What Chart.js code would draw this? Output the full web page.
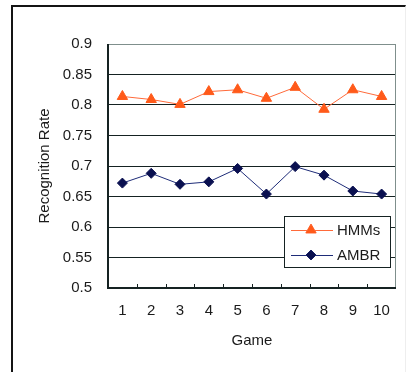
<!DOCTYPE html>
<html>
<head>
<meta charset="utf-8">
<script src="https://cdn.jsdelivr.net/npm/chart.js@4"></script>
<style>
    html, body { margin: 0; padding: 0; background: #fff; }
    #wrap { position: relative; width: 406px; height: 372px; }
    #frame {
        position: absolute; left: 11px; top: 5px; width: 392px; height: 365px;
        border-left: 2px solid #141414; border-top: 2px solid #141414;
        border-right: 1px solid #eeeeee; border-bottom: 1px solid #f2dede;
    }
    canvas { position: absolute; left: 0; top: 0; }
</style>
</head>
<body>
<div id="wrap">
    <div id="frame"></div>
    <canvas id="chart" width="406" height="372"></canvas>
</div>
<script>
// Donnees
const games = ['1', '2', '3', '4', '5', '6', '7', '8', '9', '10'];
const hmms = [0.814, 0.809, 0.801, 0.822, 0.825, 0.811, 0.829, 0.793, 0.825, 0.814];
const ambr = [0.672, 0.688, 0.670, 0.674, 0.696, 0.654, 0.699, 0.685, 0.659, 0.654];
const yTicks = [0.5, 0.55, 0.6, 0.65, 0.7, 0.75, 0.8, 0.85, 0.9];

const FONT = 'Liberation Sans, Arial, sans-serif';
const TEXT = '#1b1b1b';

// Legende et details du cadre
const extras = {
    id: 'extras',
    afterDraw(chart) {
        const ctx = chart.ctx;
        const area = chart.chartArea;
        const x = chart.scales.x;

        ctx.save();
        // bord droit gris
        ctx.strokeStyle = '#7f8f8c';
        ctx.lineWidth = 1;
        ctx.beginPath();
        ctx.moveTo(area.right - 0.5, area.top);
        ctx.lineTo(area.right - 0.5, area.bottom);
        ctx.stroke();

        // petites graduations vers l'interieur
        ctx.strokeStyle = '#152222';
        for (let i = 1; i < games.length; i++) {
            const px = Math.round(x.getPixelForValue(i - 0.5)) + 0.5;
            ctx.beginPath();
            ctx.moveTo(px, area.bottom);
            ctx.lineTo(px, area.bottom - 4);
            ctx.stroke();
        }

        // axes noirs
        ctx.lineWidth = 2;
        ctx.beginPath();
        ctx.moveTo(area.left, area.top);
        ctx.lineTo(area.left, area.bottom);
        ctx.lineTo(area.right, area.bottom);
        ctx.stroke();

        // legende
        const bx = area.right - 112, by = area.bottom - 72, bw = 106, bh = 51;
        ctx.fillStyle = '#fff';
        ctx.fillRect(bx, by, bw, bh);
        ctx.lineWidth = 1;
        ctx.strokeStyle = '#152222';
        ctx.strokeRect(bx + 0.5, by + 0.5, bw, bh);

        chart.data.datasets.forEach((ds, i) => {
            const cy = by + 14 + i * 25;
            ctx.strokeStyle = ds.borderColor;
            ctx.lineWidth = 1;
            ctx.beginPath();
            ctx.moveTo(bx + 7, cy + 0.5);
            ctx.lineTo(bx + 49, cy + 0.5);
            ctx.stroke();
            Chart.helpers.drawPoint(ctx, {
                pointStyle: ds.pointStyle,
                radius: ds.pointRadius,
                rotation: 0,
                borderWidth: 1
            }, bx + 27, cy);
            ctx.fillStyle = ds.pointBackgroundColor;
            ctx.fill();
            ctx.fillStyle = TEXT;
            ctx.font = '15px ' + FONT;
            ctx.textBaseline = 'middle';
            ctx.fillText(ds.label, bx + 53, cy + 1);
        });
        ctx.restore();
    }
};

new Chart(document.getElementById('chart'), {
    type: 'line',
    data: {
        labels: games,
        datasets: [
            {
                label: 'HMMs',
                data: hmms,
                borderColor: '#ff6a3a',
                borderWidth: 1,
                pointStyle: 'triangle',
                pointRadius: 6,
                pointBackgroundColor: '#ff5a1a',
                pointBorderColor: '#ff5a1a',
                tension: 0
            },
            {
                label: 'AMBR',
                data: ambr,
                borderColor: '#1e2c78',
                borderWidth: 1,
                pointStyle: 'rectRot',
                pointRadius: 5,
                pointBackgroundColor: '#0a1050',
                pointBorderColor: '#0a1050',
                tension: 0
            }
        ]
    },
    options: {
        responsive: false,
        animation: false,
        layout: { padding: { left: 32, right: 10, top: 44, bottom: 18 } },
        plugins: {
            legend: { display: false },
            tooltip: { enabled: false }
        },
        scales: {
            x: {
                offset: true,
                grid: { display: false, drawTicks: false },
                border: { display: false },
                ticks: { color: TEXT, font: { family: FONT, size: 15 }, padding: 14, maxRotation: 0 },
                title: { display: true, text: 'Game', color: TEXT, font: { family: FONT, size: 15 }, padding: { top: 4, bottom: 4 } },
                afterFit(scale) { scale.height = 66; }
            },
            y: {
                min: 0.5,
                max: 0.9,
                afterBuildTicks(scale) { scale.ticks = yTicks.map(v => ({ value: v })); },
                grid: {
                    color: ctx => ctx.tick && ctx.tick.value === 0.9 ? '#7f8f8c' : '#152222',
                    drawTicks: false
                },
                border: { display: false },
                ticks: {
                    color: TEXT,
                    font: { family: FONT, size: 15 },
                    padding: 16,
                    callback: v => String(Math.round(v * 100) / 100)
                },
                title: { display: true, text: 'Recognition Rate', color: TEXT, font: { family: FONT, size: 15 }, padding: { top: 4, bottom: 4 } },
                afterFit(scale) { scale.width = 76; }
            }
        }
    },
    plugins: [extras]
});
</script>
</body>
</html>
